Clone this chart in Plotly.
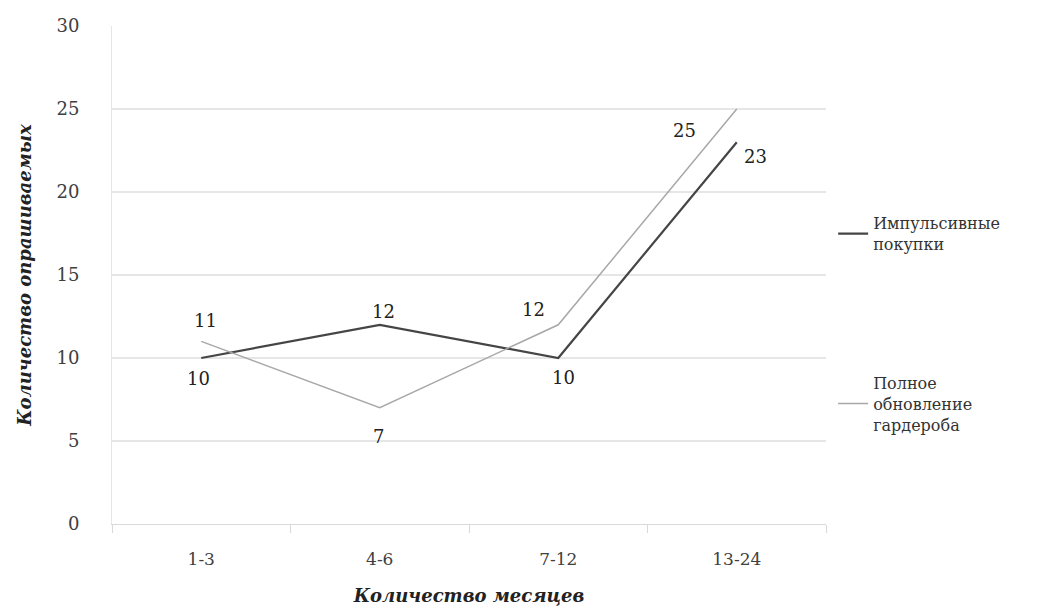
import plotly.graph_objects as go

# Periods (months) and number of respondents per series
months = ["1-3", "4-6", "7-12", "13-24"]
impulse = [10, 12, 10, 23]
wardrobe = [11, 7, 12, 25]
impulse_name = "Импульсивные<br>покупки"
wardrobe_name = "Полное<br>обновление<br>гардероба"

FONT = "Palatino Linotype, Book Antiqua, Palatino, DejaVu Serif, serif"
TXT = "#404040"

fig = go.Figure()
fig.add_trace(go.Scatter(
    x=months, y=impulse, name=impulse_name, mode="lines",
    line=dict(color="#454545", width=2.2), legendgroup="a",
))
fig.add_trace(go.Scatter(
    x=months, y=wardrobe, name=wardrobe_name, mode="lines",
    line=dict(color="#a8a8a8", width=1.5), legendgroup="b",
))

# Value labels placed around each point (offsets in pixels)
imp_off = [(-3, -20), (4, 13), (5, -19), (19, -14)]
war_off = [(4, 21), (-1, -29), (-25, 15), (-52, -21)]
for vals, offs in ((impulse, imp_off), (wardrobe, war_off)):
    for m, v, (dx, dy) in zip(months, vals, offs):
        fig.add_annotation(x=m, y=v, text=str(v), showarrow=False,
                           xshift=dx, yshift=dy,
                           font=dict(family=FONT, size=18, color="#222"))

fig.update_layout(
    width=1051, height=610,
    margin=dict(l=112, r=225, t=26, b=86),
    paper_bgcolor="white", plot_bgcolor="white",
    font=dict(family=FONT, size=17, color=TXT),
    showlegend=True,
    legend=dict(x=1.01, y=0.638, xanchor="left", yanchor="top",
                tracegroupgap=115, traceorder="grouped",
                font=dict(family=FONT, size=16, color="#333")),
)
fig.update_xaxes(
    type="category", range=[-0.5, 3.5], automargin=False,
    tickson="boundaries", ticks="outside", ticklen=8, tickcolor="#d9d9d9",
    showline=True, linecolor="#d9d9d9", linewidth=1, showgrid=False,
    ticklabelstandoff=20,
    tickfont=dict(family=FONT, size=17, color=TXT),
    title=dict(text="<b><i>Количество месяцев</i></b>", standoff=20,
               font=dict(family=FONT, size=18, color="#222")),
)
fig.update_yaxes(
    range=[0, 30], dtick=5, showgrid=True, gridcolor="#e6e6e6", gridwidth=1.5,
    showline=True, linecolor="#e6e6e6", zeroline=False, ticks="",
    ticklabelstandoff=28, automargin=False,
    tickfont=dict(family=FONT, size=18, color=TXT),
    title=dict(text="<b><i>Количество опрашиваемых</i></b>", standoff=20,
               font=dict(family=FONT, size=18, color="#222")),
)

fig.write_html("out.html")
